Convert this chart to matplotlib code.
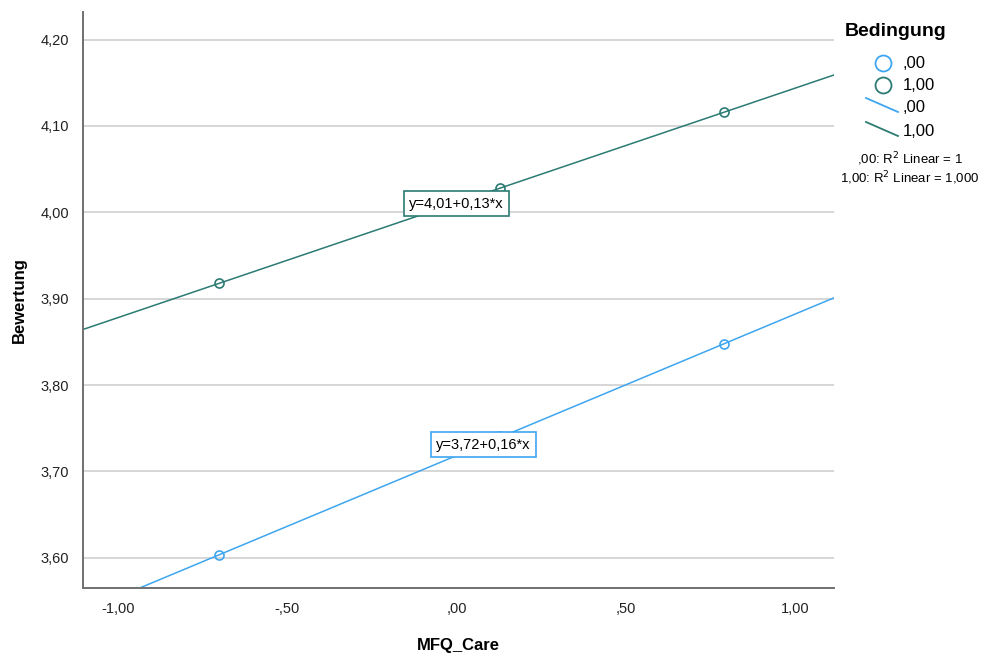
import numpy as np
import matplotlib
matplotlib.use('Agg')
import matplotlib.pyplot as plt
from matplotlib.lines import Line2D

plt.rcParams['font.family'] = ['Liberation Sans', 'DejaVu Sans']

# data
care_00 = [-0.70, 0.13, 0.79]
bew_00 = [3.603, 3.741, 3.847]
care_10 = [-0.70, 0.13, 0.79]
bew_10 = [3.918, 4.028, 4.116]

groups = [',00', '1,00']
colors = ['#3ea6f0', '#2b7b73']
fit_labels = ['y=3,72+0,16*x', 'y=4,01+0,13*x']
label_pos = [(0.08, 3.731), (0.0, 4.010)]

xticks = [-1.0, -0.5, 0.0, 0.5, 1.0]
xtick_labels = ['-1,00', '-,50', ',00', ',50', '1,00']
yticks = [3.6, 3.7, 3.8, 3.9, 4.0, 4.1, 4.2]
ytick_labels = ['3,60', '3,70', '3,80', '3,90', '4,00', '4,10', '4,20']

fig = plt.figure(figsize=(9.87, 6.55), dpi=100)
ax = fig.add_axes([0.0841, 0.1023, 0.7609, 0.8794])
xlim = (-1.103, 1.115)
ylim = (3.565, 4.232)

for xs, ys, c, lab, pos in zip([care_00, care_10], [bew_00, bew_10], colors, fit_labels, label_pos):
    b, a = np.polyfit(xs, ys, 1)
    xx = np.array(xlim)
    ax.plot(xx, a + b * xx, color=c, lw=1.1, zorder=2)
    ax.plot(xs, ys, 'o', mfc='none', mec=c, ms=6.5, mew=1.2, zorder=3)
    ax.text(pos[0], pos[1], lab, ha='center', va='center', fontsize=10.5, zorder=5,
            bbox=dict(boxstyle='square,pad=0.38', fc='white', ec=c, lw=1.2))

ax.set_xlim(xlim)
ax.set_ylim(ylim)
ax.set_xticks(xticks)
ax.set_xticklabels(xtick_labels)
ax.set_yticks(yticks)
ax.set_yticklabels(ytick_labels)
ax.tick_params(length=0, labelsize=10.5, colors='#222222', pad=10)
ax.grid(axis='y', color='#cccccc', lw=1.1)
ax.set_axisbelow(True)
for s in ['top', 'right']:
    ax.spines[s].set_visible(False)
for s in ['left', 'bottom']:
    ax.spines[s].set_color('#707070')
    ax.spines[s].set_linewidth(1.4)
ax.set_xlabel('MFQ_Care', fontsize=12, fontweight='bold', labelpad=16)
ax.set_ylabel('Bewertung', fontsize=12, fontweight='bold', labelpad=10)

# legend, drawn by hand in figure pixels
W, H = 987, 655
def fx(px): return px / W
def fy(py): return 1 - py / H

fig.text(fx(845), fy(32), 'Bedingung', fontsize=14, fontweight='bold', va='center')
for i, (g, c) in enumerate(zip(groups, colors)):
    y = 63 + 22 * i
    fig.add_artist(Line2D([fx(883)], [fy(y)], marker='o', mfc='none', mec=c, ms=11.5, mew=1.3,
                          transform=fig.transFigure))
    fig.text(fx(903), fy(y + 1), g, fontsize=12, va='center')
for i, (g, c) in enumerate(zip(groups, colors)):
    y0 = 98 + 24 * i
    fig.add_artist(Line2D([fx(866), fx(898)], [fy(y0), fy(y0 + 14)], color=c, lw=1.3,
                          transform=fig.transFigure))
    fig.text(fx(903), fy(y0 + 9), g, fontsize=12, va='center')
fig.text(fx(910), fy(159), ',00: R$^2$ Linear = 1', fontsize=9.5, ha='center', va='center')
fig.text(fx(910), fy(178), '1,00: R$^2$ Linear = 1,000', fontsize=9.5, ha='center', va='center')

plt.savefig('out.png', dpi=100)
